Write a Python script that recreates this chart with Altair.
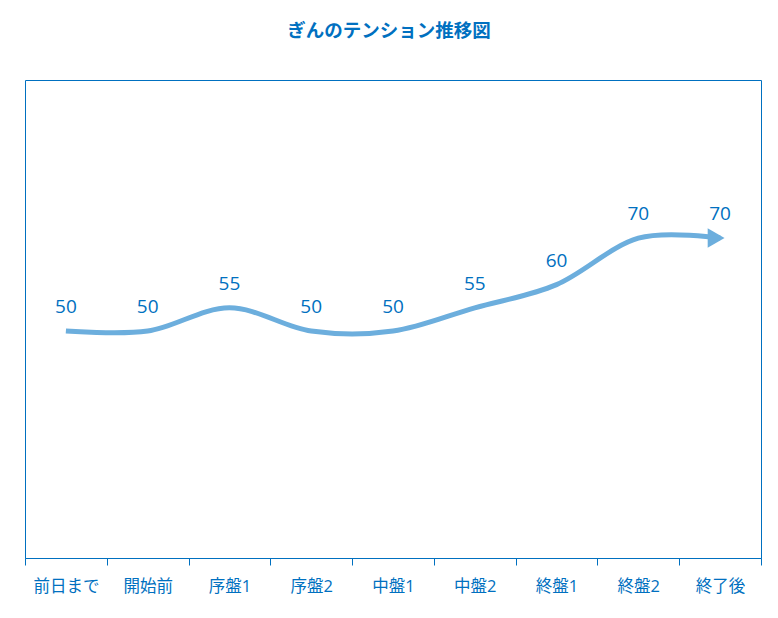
import altair as alt
import pandas as pd

categories = ["前日まで", "開始前", "序盤1", "序盤2", "中盤1", "中盤2", "終盤1", "終盤2", "終了後"]
values = [50, 50, 55, 50, 50, 55, 60, 70, 70]

df = pd.DataFrame({"stage": categories, "tension": values, "order": list(range(len(categories)))})
last = df.tail(1)

BLUE = "#0070C0"
LINE = "#6CAEDD"
FONT = "Open Sans, Noto Sans CJK JP"

x = alt.X("stage:N", sort=categories, title=None,
          scale=alt.Scale(paddingInner=0, paddingOuter=0),
          axis=alt.Axis(tickBand="extent", labelAngle=0, labelColor=BLUE, labelFont=FONT,
                        labelFontSize=16.5, labelPadding=13, tickColor=BLUE, domainColor=BLUE,
                        tickSize=7, grid=False))
y = alt.Y("tension:Q", scale=alt.Scale(domain=[1.2, 104], nice=False, zero=False), axis=None)

line = alt.Chart(df).mark_line(interpolate="cardinal", tension=0, color=LINE,
                               strokeWidth=5, strokeCap="butt").encode(x=x, y=y, order="order:O")

arrow = alt.Chart(last).mark_point(shape="triangle-right", filled=True, color=LINE, opacity=1,
                                   size=380, xOffset=-4).encode(x=x, y=y)

labels = alt.Chart(df).mark_text(color=BLUE, font=FONT, fontSize=19, dy=-24).encode(
    x=x, y=y, text="tension:Q")

chart = alt.layer(line, arrow, labels).properties(
    width=736, height=478,
    title=alt.TitleParams("ぎんのテンション推移図", font=FONT, fontSize=18.5, fontWeight="bold",
                          color=BLUE, anchor="middle", offset=40, dx=-4),
    autosize=alt.AutoSizeParams(type="none"),
    padding={"left": 17, "top": 72, "right": 9, "bottom": 52},
).configure_view(stroke=BLUE, strokeWidth=1)

chart.save("out.html", embed_options={"renderer": "svg", "actions": False})
